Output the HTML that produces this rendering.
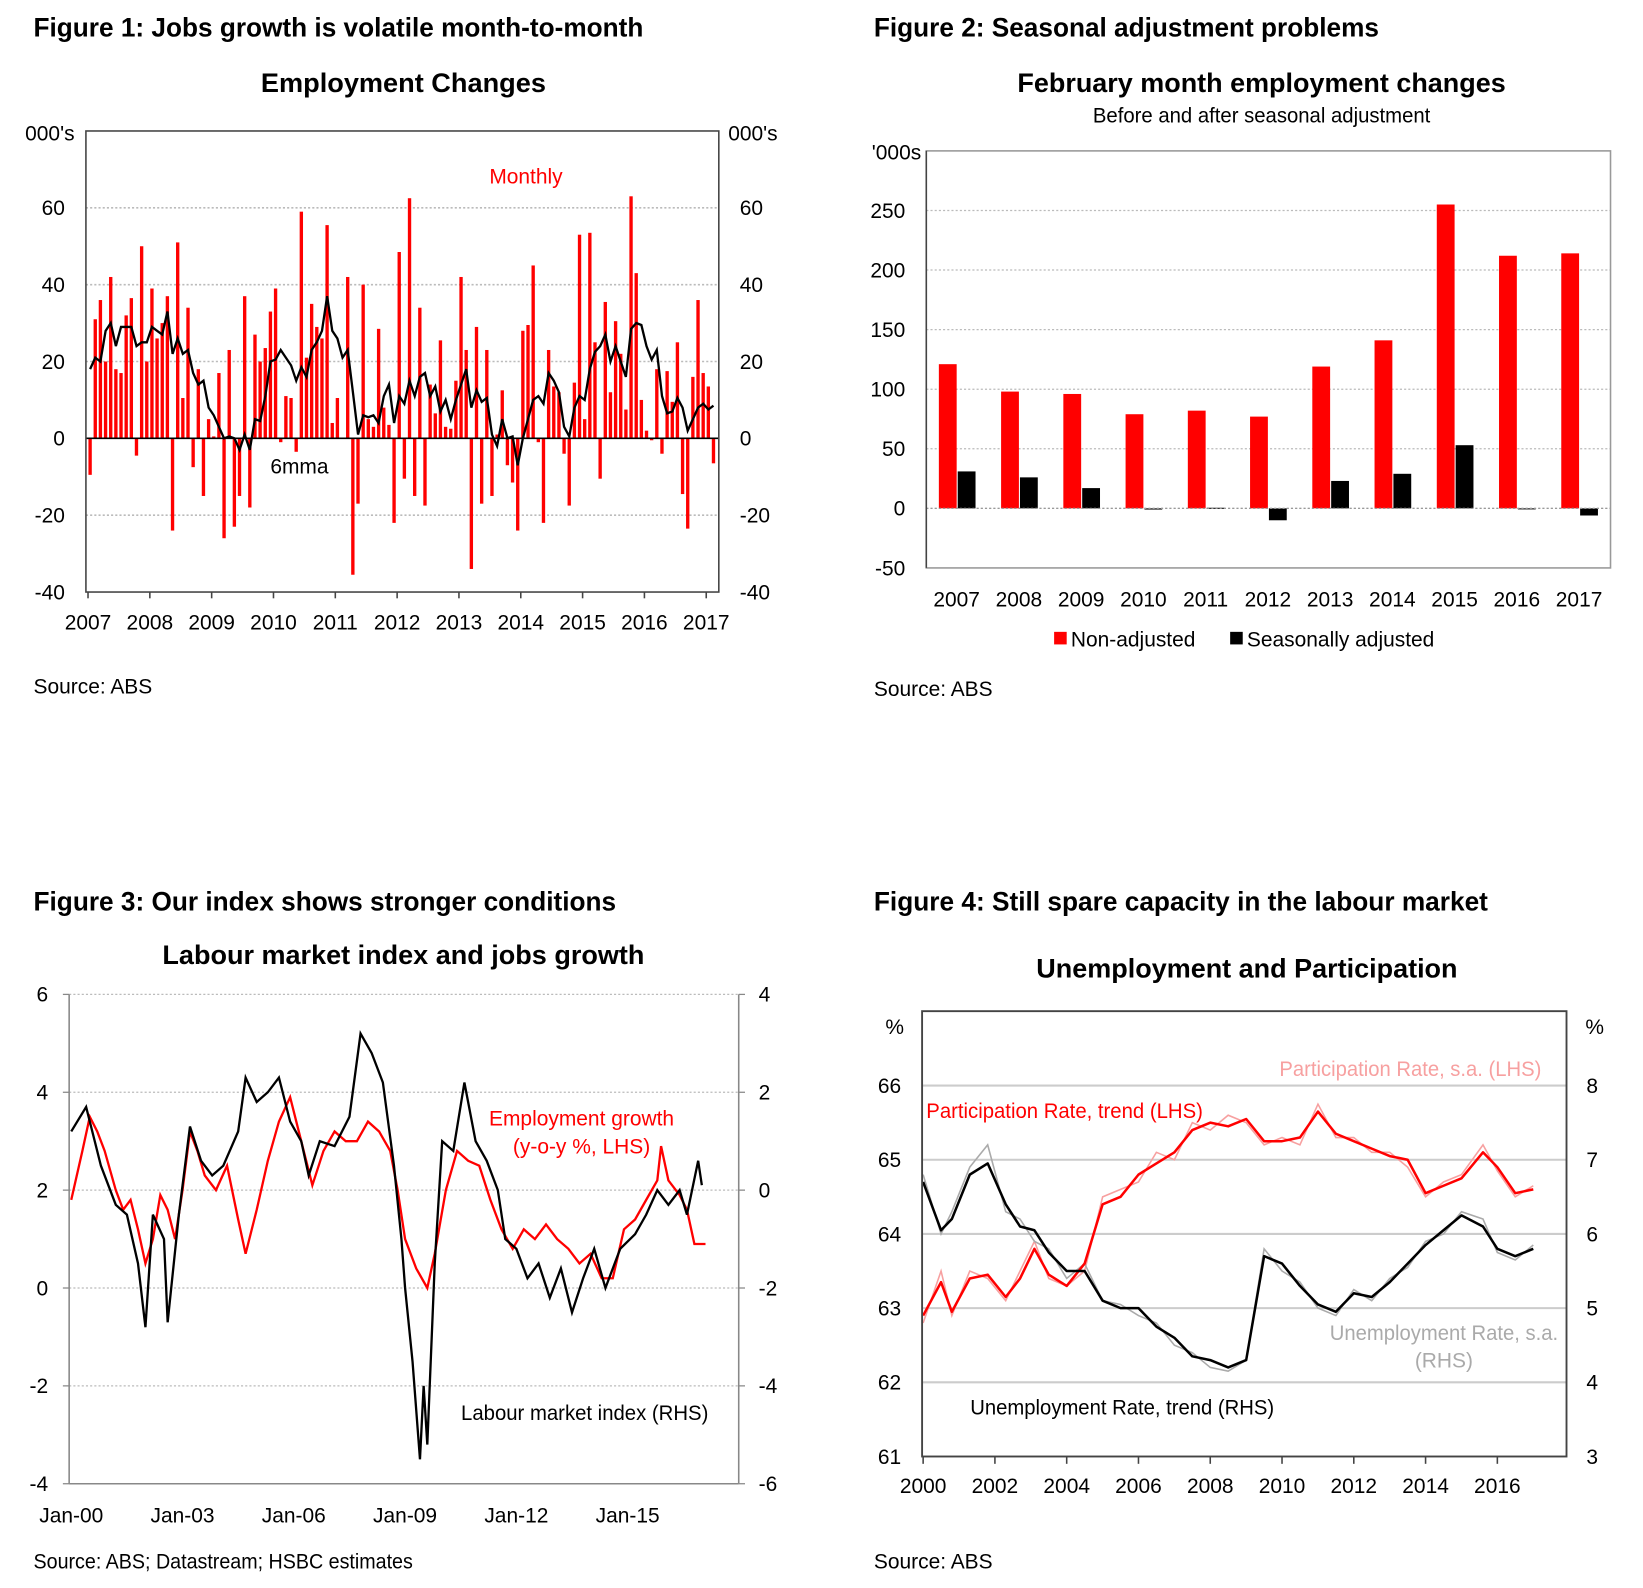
<!DOCTYPE html>
<html><head><meta charset="utf-8"><style>
html,body{margin:0;padding:0;background:#fff;}
svg{display:block;font-family:"Liberation Sans",Arial,sans-serif;}
.t{font-weight:bold;font-size:26px;}
.st{font-weight:bold;font-size:26px;}
.tk{font-size:20px;}
</style></head><body>
<svg id="s" width="1643" height="1588" viewBox="0 0 1568 1515.5" preserveAspectRatio="none" xmlns="http://www.w3.org/2000/svg">
<text class="t" x="32" y="35" textLength="582" lengthAdjust="spacingAndGlyphs">Figure 1: Jobs growth is volatile month-to-month</text>
<text class="st" x="385" y="88" text-anchor="middle" textLength="272" lengthAdjust="spacingAndGlyphs">Employment Changes</text>
<text class="t" x="834" y="35" textLength="482" lengthAdjust="spacingAndGlyphs">Figure 2: Seasonal adjustment problems</text>
<text class="st" x="1204" y="88" text-anchor="middle" textLength="466" lengthAdjust="spacingAndGlyphs">February month employment changes</text>
<text x="1204" y="117" text-anchor="middle" font-size="20" textLength="322" lengthAdjust="spacingAndGlyphs">Before and after seasonal adjustment</text>
<text class="t" x="32" y="869" textLength="556" lengthAdjust="spacingAndGlyphs">Figure 3: Our index shows stronger conditions</text>
<text class="st" x="385" y="920" text-anchor="middle" textLength="460" lengthAdjust="spacingAndGlyphs">Labour market index and jobs growth</text>
<text class="t" x="834" y="869" textLength="586" lengthAdjust="spacingAndGlyphs">Figure 4: Still spare capacity in the labour market</text>
<text class="st" x="1190" y="933" text-anchor="middle" textLength="402" lengthAdjust="spacingAndGlyphs">Unemployment and Participation</text>
<text x="32" y="662" font-size="20">Source: ABS</text>
<text x="834" y="664" font-size="20">Source: ABS</text>
<text x="32" y="1497" font-size="20" textLength="362" lengthAdjust="spacingAndGlyphs">Source: ABS; Datastream; HSBC estimates</text>
<text x="834" y="1497" font-size="20">Source: ABS</text>
<g id="g1"></g><g id="g2"></g><g id="g3"></g><g id="g4"></g>
</svg>
<script>
// Figure 1 data
const f1Monthly=[-9.5,31,36,20,42,18,17,32,36.5,-4.5,50,20,39,26,30,37,-24,51,10.5,34,-7.5,18,-15,5,0.5,17,-26,23,-23,-15,37,-18,27,20,23.5,33,39,-1,11,10.5,-3.5,59,21,35,29,26,55.5,4,10.5,0,42,-35.5,-17,40,5,3,28.5,8,3.5,-22,48.5,-10.5,62.5,-15,34,-17.5,14,6.5,25.5,3,2.5,15,42,23,-34,29,-17,23,-15,1,12.5,-7,-11.5,-24,28,29.5,45,-1,-22,23,13.5,12,-4,-17.5,14.5,53,5,53.5,25,-10.5,35.5,12,30.5,22,7.5,63,43,10,2,-0.5,18,-4,17.5,9.5,25,-14.5,-23.5,16,36,17,13.5,-6.5];
const f1Mma=[18,21,20,28,30,24,29,29,29,24,25,25,29,28,27,33,22,26,22,23,17,14,15,8,6,3,0,0.5,0,-3,1,-3,5,4.5,11,20,20.5,23,21,19,15,18.5,16,23,25,28,37,28,26,21,23,12,1,6,5.5,6,4,11,14,4,11,9,15,11,16,17,11,13.5,7,10,5,10,14,18,8,12.5,9.5,10.5,1,-2,5,0,0.5,-7,0,5,10,11,9,17,15,12,3,0.5,8,11,10,18,22.5,24,27,20,24,20,16,28.5,30,29.5,24,20.5,23,11,6.5,7,10.5,8,2,5,8,9,7.5,8.5];
const f1Ticks=[60,40,20,0,-20,-40];
const f1Years=[2007,2008,2009,2010,2011,2012,2013,2014,2015,2016,2017];
// Figure 2 data
const f2Years=[2007,2008,2009,2010,2011,2012,2013,2014,2015,2016,2017];
const f2NonAdj=[121,98,96,79,82,77,119,141,255,212,214];
const f2SeasAdj=[31,26,17,-1,0.5,-10,23,29,53,0,-6];
const f2Ticks=[250,200,150,100,50,0,-50];
// Figure 3 data
const f3EmpX=[2000.0,2000.3,2000.5,2000.7,2000.9,2001.2,2001.4,2001.6,2001.8,2002.0,2002.2,2002.4,2002.6,2002.8,2003.0,2003.2,2003.4,2003.6,2003.9,2004.2,2004.5,2004.7,2005.0,2005.3,2005.6,2005.9,2006.2,2006.5,2006.8,2007.1,2007.4,2007.7,2008.0,2008.3,2008.6,2008.8,2009.0,2009.3,2009.6,2009.8,2010.1,2010.4,2010.7,2011.0,2011.3,2011.6,2011.9,2012.2,2012.5,2012.8,2013.1,2013.4,2013.7,2014.0,2014.3,2014.6,2014.9,2015.2,2015.5,2015.8,2015.9,2016.1,2016.4,2016.6,2016.8,2017.1];
const f3Emp=[1.8,2.8,3.5,3.2,2.8,2.0,1.6,1.8,1.2,0.5,1.0,1.9,1.6,1.0,2.0,3.2,2.8,2.3,2.0,2.5,1.4,0.7,1.6,2.6,3.4,3.9,3.0,2.1,2.8,3.2,3.0,3.0,3.4,3.2,2.8,2.0,1.0,0.4,0.0,0.7,2.0,2.8,2.6,2.5,1.8,1.2,0.8,1.2,1.0,1.3,1.0,0.8,0.5,0.7,0.2,0.2,1.2,1.4,1.8,2.2,2.9,2.2,1.9,1.6,0.9,0.9];
const f3IdxX=[2000.0,2000.4,2000.8,2001.2,2001.5,2001.8,2002.0,2002.2,2002.5,2002.6,2002.9,2003.2,2003.5,2003.8,2004.1,2004.5,2004.7,2005.0,2005.3,2005.6,2005.9,2006.2,2006.4,2006.7,2007.1,2007.5,2007.8,2008.1,2008.4,2008.7,2008.9,2009.0,2009.2,2009.4,2009.5,2009.6,2009.8,2010.0,2010.3,2010.6,2010.9,2011.2,2011.5,2011.7,2012.0,2012.3,2012.6,2012.9,2013.2,2013.5,2013.8,2014.1,2014.4,2014.8,2015.2,2015.5,2015.8,2016.1,2016.4,2016.6,2016.9,2017.0];
const f3Idx=[1.2,1.7,0.5,-0.3,-0.5,-1.5,-2.8,-0.5,-1.0,-2.7,-0.5,1.3,0.6,0.3,0.5,1.2,2.3,1.8,2.0,2.3,1.4,1.0,0.3,1.0,0.9,1.5,3.2,2.8,2.2,0.5,-1.0,-2.0,-3.5,-5.5,-4.0,-5.2,-1.5,1.0,0.8,2.2,1.0,0.6,0.0,-1.0,-1.2,-1.8,-1.5,-2.2,-1.6,-2.5,-1.8,-1.2,-2.0,-1.2,-0.9,-0.5,0.0,-0.3,0.0,-0.5,0.6,0.1];
const f3LTicks=[6,4,2,0,-2,-4];
const f3RTicks=[4,2,0,-2,-4,-6];
const f3XLabels=["Jan-00","Jan-03","Jan-06","Jan-09","Jan-12","Jan-15"];
const f3XYears=[2000,2003,2006,2009,2012,2015];
// Figure 4 data
const f4X=[2000,2000.5,2000.8,2001.3,2001.8,2002.3,2002.7,2003.1,2003.5,2004,2004.5,2005,2005.5,2006,2006.5,2007,2007.5,2008,2008.5,2009,2009.5,2010,2010.5,2011,2011.5,2012,2012.5,2013,2013.5,2014,2014.5,2015,2015.6,2016,2016.5,2017];
const f4PartTrend=[62.9,63.35,62.95,63.4,63.45,63.15,63.4,63.8,63.45,63.3,63.6,64.4,64.5,64.8,64.95,65.1,65.4,65.5,65.45,65.55,65.25,65.25,65.3,65.65,65.35,65.25,65.15,65.05,65.0,64.55,64.65,64.75,65.1,64.9,64.55,64.6];
const f4PartSA=[62.8,63.5,62.9,63.5,63.4,63.1,63.5,63.9,63.4,63.3,63.5,64.5,64.6,64.7,65.1,65.0,65.5,65.4,65.6,65.5,65.2,65.3,65.2,65.75,65.3,65.3,65.1,65.1,64.9,64.5,64.7,64.8,65.2,64.85,64.5,64.65];
const f4UnTrend=[6.7,6.05,6.2,6.8,6.95,6.4,6.1,6.05,5.75,5.5,5.5,5.1,5.0,5.0,4.75,4.6,4.35,4.3,4.2,4.3,5.7,5.6,5.3,5.05,4.95,5.2,5.15,5.35,5.6,5.85,6.05,6.25,6.1,5.8,5.7,5.8];
const f4UnSA=[6.8,6.0,6.3,6.9,7.2,6.3,6.2,5.9,5.8,5.4,5.6,5.1,5.05,4.9,4.8,4.5,4.4,4.2,4.15,4.3,5.8,5.5,5.35,5.0,4.9,5.25,5.1,5.4,5.55,5.9,6.0,6.3,6.2,5.75,5.65,5.85];
const f4LTicks=[66,65,64,63,62,61];
const f4RTicks=[8,7,6,5,4,3];
const f4XYears=[2000,2002,2004,2006,2008,2010,2012,2014,2016];

const NS="http://www.w3.org/2000/svg";
function mk(parent,tag,attrs,txt){const e=document.createElementNS(NS,tag);for(const k in attrs)e.setAttribute(k,attrs[k]);if(txt!==undefined)e.textContent=txt;parent.appendChild(e);return e;}
function pathD(xs,ys){return xs.map((x,i)=>(i?'L':'M')+x.toFixed(1)+','+ys[i].toFixed(1)).join('');}

// ---------- Figure 1 ----------
(function(){
const g=document.getElementById('g1');
const X0=82,X1=686,Y0=125,Y1=565,vmin=-40,vmax=80;
const y=v=>Y1-(v-vmin)/(vmax-vmin)*(Y1-Y0);
const xY=yr=>84+(yr-2007)*59;
const xM=i=>xY(2007+i/12)+2;
f1Ticks.forEach(t=>{
 if(t!==0&&t!==-40){const l=mk(g,'line',{x1:X0,x2:X1,y1:y(t),y2:y(t),stroke:'#bbb','stroke-width':1.5,'stroke-dasharray':'2,2'});
 }
 const a=mk(g,'text',{x:62,y:y(t)+7,'text-anchor':'end',class:'tk'},t);
 
 const b=mk(g,'text',{x:706,y:y(t)+7,class:'tk'},t);
 
});
f1Monthly.forEach((v,i)=>{
 const r=mk(g,'rect',{x:xM(i)-1.6,width:3.2,y:Math.min(y(v),y(0)),height:Math.abs(y(v)-y(0)),fill:'#ff0000'});
 
});
const ln=mk(g,'path',{d:pathD(f1Mma.map((v,i)=>xM(i)),f1Mma.map(y)),fill:'none',stroke:'#000','stroke-width':2.2});

const z=mk(g,'line',{x1:X0,x2:X1,y1:y(0),y2:y(0),stroke:'#000','stroke-width':1.5});

const fr=mk(g,'rect',{x:X0,y:Y0,width:X1-X0,height:Y1-Y0,fill:'none',stroke:'#444','stroke-width':1.5});

f1Years.forEach(yr=>{
 const tk=mk(g,'line',{x1:xY(yr),x2:xY(yr),y1:Y1,y2:Y1+6,stroke:'#444','stroke-width':1.5});
 
 const t=mk(g,'text',{x:xY(yr),y:601,'text-anchor':'middle',class:'tk'},yr);
 
});
let t=mk(g,'text',{x:24,y:134,class:'tk'},"000's");
t=mk(g,'text',{x:695,y:134,class:'tk'},"000's");
t=mk(g,'text',{x:467,y:175,class:'tk',fill:'#ff0000'},"Monthly");
t=mk(g,'text',{x:258,y:452,class:'tk'},"6mma");
})();

// ---------- Figure 2 ----------
(function(){
const g=document.getElementById('g2');
const X0=884,X1=1537,Y0=144,Y1=542,vmin=-50,vmax=300;
const y=v=>Y1-(v-vmin)/(vmax-vmin)*(Y1-Y0);
const xc=i=>913+i*59.4;
f2Ticks.forEach(tv=>{
 if(tv!==-50){const l=mk(g,'line',{x1:X0,x2:X1,y1:y(tv),y2:y(tv),stroke:'#bbb','stroke-width':1.2,'stroke-dasharray':'2,2'});
 }
 const a=mk(g,'text',{x:864,y:y(tv)+7,'text-anchor':'end',class:'tk'},tv);
 
});
f2NonAdj.forEach((v,i)=>{
 const r=mk(g,'rect',{x:xc(i)-17,width:17,y:Math.min(y(v),y(0)),height:Math.abs(y(v)-y(0)),fill:'#ff0000'});
 
});
f2SeasAdj.forEach((v,i)=>{
 const r=mk(g,'rect',{x:xc(i)+1,width:17,y:Math.min(y(v),y(0)),height:Math.max(Math.abs(y(v)-y(0)),1),fill:'#000'});
 
});
const z=mk(g,'line',{x1:X0,x2:X1,y1:y(0),y2:y(0),stroke:'#999','stroke-width':1.2,'stroke-dasharray':'2,2'});

const fr=mk(g,'rect',{x:X0,y:Y0,width:X1-X0,height:Y1-Y0,fill:'none',stroke:'#999','stroke-width':1.5});

const la=mk(g,'line',{x1:X0,x2:X0,y1:Y0,y2:Y1,stroke:'#444','stroke-width':1.5});

f2Years.forEach((yr,i)=>{
 const t=mk(g,'text',{x:xc(i),y:579,'text-anchor':'middle',class:'tk'},yr);
 
});
let t=mk(g,'text',{x:832,y:152,class:'tk'},"'000s");
let r=mk(g,'rect',{x:1006,y:603,width:12,height:12,fill:'#ff0000'});
t=mk(g,'text',{x:1022,y:617,class:'tk'},"Non-adjusted");
r=mk(g,'rect',{x:1174,y:603,width:12,height:12,fill:'#000'});
t=mk(g,'text',{x:1190,y:617,class:'tk'},"Seasonally adjusted");
})();

// ---------- Figure 3 ----------
(function(){
const g=document.getElementById('g3');
const X0=66,X1=705,Y0=949,Y1=1416;
const yL=v=>Y1-(v+4)/10*(Y1-Y0);
const yR=v=>Y1-(v+6)/10*(Y1-Y0);
const x=yr=>68+(yr-2000)*35.4;
f3LTicks.forEach((tv,i)=>{
 const l=mk(g,'line',{x1:X0,x2:X1,y1:yL(tv),y2:yL(tv),stroke:'#bbb','stroke-width':1.2,'stroke-dasharray':'2,2'});
 
 const a=mk(g,'text',{x:46,y:yL(tv)+7,'text-anchor':'end',class:'tk'},tv);
 
 const lt=mk(g,'line',{x1:X0-6,x2:X0,y1:yL(tv),y2:yL(tv),stroke:'#888','stroke-width':1.2});
 
});
f3RTicks.forEach(tv=>{
 const a=mk(g,'text',{x:724,y:yR(tv)+7,class:'tk'},tv);
 
 const rt=mk(g,'line',{x1:X1,x2:X1+6,y1:yR(tv),y2:yR(tv),stroke:'#888','stroke-width':1.2});
 
});
let a=mk(g,'line',{x1:X0,x2:X0,y1:Y0,y2:Y1,stroke:'#888','stroke-width':1.5});
a=mk(g,'line',{x1:X1,x2:X1,y1:Y0,y2:Y1,stroke:'#888','stroke-width':1.5});
a=mk(g,'line',{x1:X0,x2:X1,y1:Y1,y2:Y1,stroke:'#888','stroke-width':1.5});
let p=mk(g,'path',{d:pathD(f3EmpX.map(x),f3Emp.map(yL)),fill:'none',stroke:'#ff0000','stroke-width':2.2});

p=mk(g,'path',{d:pathD(f3IdxX.map(x),f3Idx.map(yR)),fill:'none',stroke:'#000','stroke-width':2.2});

f3XYears.forEach((yr,i)=>{
 const t=mk(g,'text',{x:x(yr),y:1453,'text-anchor':'middle',class:'tk'},f3XLabels[i]);
 
});
let t=mk(g,'text',{x:555,y:1074,'text-anchor':'middle',class:'tk',fill:'#ff0000'},"Employment growth");
t=mk(g,'text',{x:555,y:1101,'text-anchor':'middle',class:'tk',fill:'#ff0000'},"(y-o-y %, LHS)");
t=mk(g,'text',{x:440,y:1355,class:'tk',textLength:236,lengthAdjust:'spacingAndGlyphs'},"Labour market index (RHS)");
})();

// ---------- Figure 4 ----------
(function(){
const g=document.getElementById('g4');
const X0=880,X1=1495,Y0=965,Y1=1390;
const yL=v=>1390-(v-61)*70.8;
const yR=v=>1390-(v-3)*70.8;
const x=yr=>881+(yr-2000)*34.25;
f4LTicks.forEach((tv,i)=>{
 if(tv!==61){const l=mk(g,'line',{x1:X0,x2:X1,y1:yL(tv),y2:yL(tv),stroke:'#ccc','stroke-width':2});
 }
 const a=mk(g,'text',{x:860,y:yL(tv)+7,'text-anchor':'end',class:'tk'},tv);
 
});
f4RTicks.forEach(tv=>{
 const a=mk(g,'text',{x:1514,y:yR(tv)+7,class:'tk'},tv);
 
});
let p=mk(g,'path',{d:pathD(f4X.map(x),f4PartSA.map(yL)),fill:'none',stroke:'#f7a0a0','stroke-width':1.5});

p=mk(g,'path',{d:pathD(f4X.map(x),f4UnSA.map(yR)),fill:'none',stroke:'#aaa','stroke-width':1.5});

p=mk(g,'path',{d:pathD(f4X.map(x),f4PartTrend.map(yL)),fill:'none',stroke:'#ff0000','stroke-width':2.4,'stroke-linejoin':'round'});

p=mk(g,'path',{d:pathD(f4X.map(x),f4UnTrend.map(yR)),fill:'none',stroke:'#000','stroke-width':2.4,'stroke-linejoin':'round'});

const fr=mk(g,'rect',{x:X0,y:Y0,width:X1-X0,height:Y1-Y0,fill:'none',stroke:'#444','stroke-width':1.8});

f4XYears.forEach(yr=>{
 const tk=mk(g,'line',{x1:x(yr),x2:x(yr),y1:Y1,y2:Y1+7,stroke:'#444','stroke-width':1.5});
 
 const t=mk(g,'text',{x:x(yr),y:1425,'text-anchor':'middle',class:'tk'},yr);
 
});
let t=mk(g,'text',{x:845,y:987,class:'tk'},"%");
t=mk(g,'text',{x:1513,y:987,class:'tk'},"%");
t=mk(g,'text',{x:1471,y:1027,'text-anchor':'end',class:'tk',fill:'#f7a0a0',textLength:250,lengthAdjust:'spacingAndGlyphs'},"Participation Rate, s.a. (LHS)");
t=mk(g,'text',{x:884,y:1067,class:'tk',fill:'#ff0000',textLength:264,lengthAdjust:'spacingAndGlyphs'},"Participation Rate, trend (LHS)");
t=mk(g,'text',{x:1487,y:1279,'text-anchor':'end',class:'tk',fill:'#aaa',textLength:218,lengthAdjust:'spacingAndGlyphs'},"Unemployment Rate, s.a.");
t=mk(g,'text',{x:1378,y:1305,'text-anchor':'middle',class:'tk',fill:'#aaa'},"(RHS)");
t=mk(g,'text',{x:926,y:1350,class:'tk',textLength:290,lengthAdjust:'spacingAndGlyphs'},"Unemployment Rate, trend (RHS)");
})();
</script>
</body></html>
